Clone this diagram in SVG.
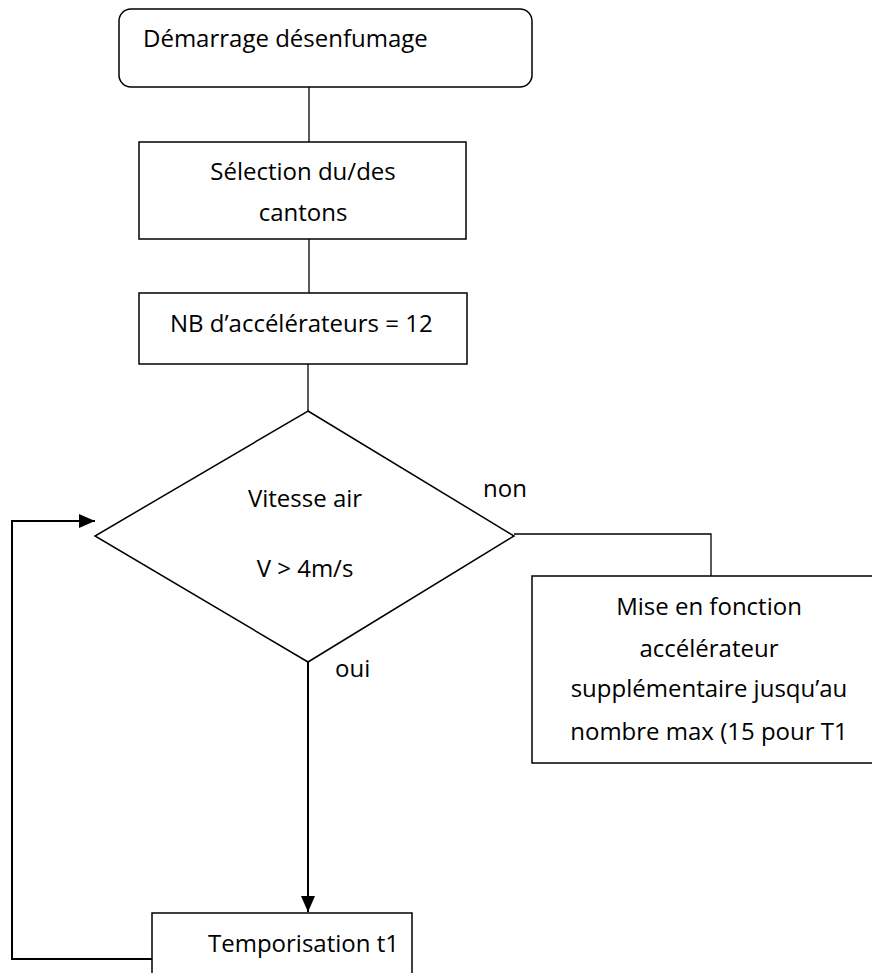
<svg xmlns="http://www.w3.org/2000/svg" width="872" height="973" viewBox="0 0 872 973">
  <style>
    .shape { fill: #ffffff; stroke: #000000; stroke-width: 1.5; }
    .wire { fill: none; stroke: #000000; stroke-width: 1.3; }
    .flow { fill: none; stroke: #000000; stroke-width: 2; }
    text { font-family: "Open Sans", "Liberation Sans", sans-serif; font-size: 24px; fill: #000000; }
    .mid { text-anchor: middle; }
  </style>
  <defs>
    <marker id="tip" viewBox="0 0 16 16" refX="16" refY="8" markerWidth="16" markerHeight="16" markerUnits="userSpaceOnUse" orient="auto">
      <path d="M0,1 L16,8 L0,15 Z" fill="#000000"/>
    </marker>
  </defs>

  <!-- connectors -->
  <g id="connectors">
    <line class="wire" x1="309" y1="87" x2="309" y2="142"/>
    <line class="wire" x1="309" y1="239" x2="309" y2="293"/>
    <line class="wire" x1="308" y1="364" x2="308" y2="411"/>
    <polyline class="wire" points="514,534 711,534 711,576"/>
    <line class="flow" x1="308" y1="662" x2="308" y2="912" marker-end="url(#tip)"/>
    <polyline class="flow" points="152,959 12,959 12,521 95,521" marker-end="url(#tip)"/>
  </g>

  <g id="start">
    <rect class="shape" x="119" y="9" width="413" height="78" rx="12" ry="12"/>
    <text x="143" y="47">Démarrage désenfumage</text>
  </g>

  <g id="select">
    <rect class="shape" x="139" y="142" width="327" height="97"/>
    <text class="mid" x="303" y="180">Sélection du/des</text>
    <text class="mid" x="303" y="221">cantons</text>
  </g>

  <g id="count">
    <rect class="shape" x="139" y="293" width="328" height="71"/>
    <text x="170" y="332">NB d’accélérateurs = 12</text>
  </g>

  <g id="check">
    <polygon class="shape" points="308,411 514,536 308,662 95,536"/>
    <text class="mid" x="305" y="507">Vitesse air</text>
    <text class="mid" x="305" y="577">V &gt; 4m/s</text>
    <text x="483" y="497">non</text>
    <text x="335" y="677">oui</text>
  </g>

  <g id="boost">
    <rect class="shape" x="532" y="576" width="360" height="187"/>
    <text class="mid" x="709" y="615">Mise en fonction</text>
    <text class="mid" x="709" y="657">accélérateur</text>
    <text class="mid" x="709" y="697">supplémentaire jusqu’au</text>
    <text class="mid" x="709" y="740">nombre max (15 pour T1</text>
  </g>

  <g id="delay">
    <rect class="shape" x="152" y="913" width="260" height="80"/>
    <text x="208" y="952">Temporisation t1</text>
  </g>
</svg>
